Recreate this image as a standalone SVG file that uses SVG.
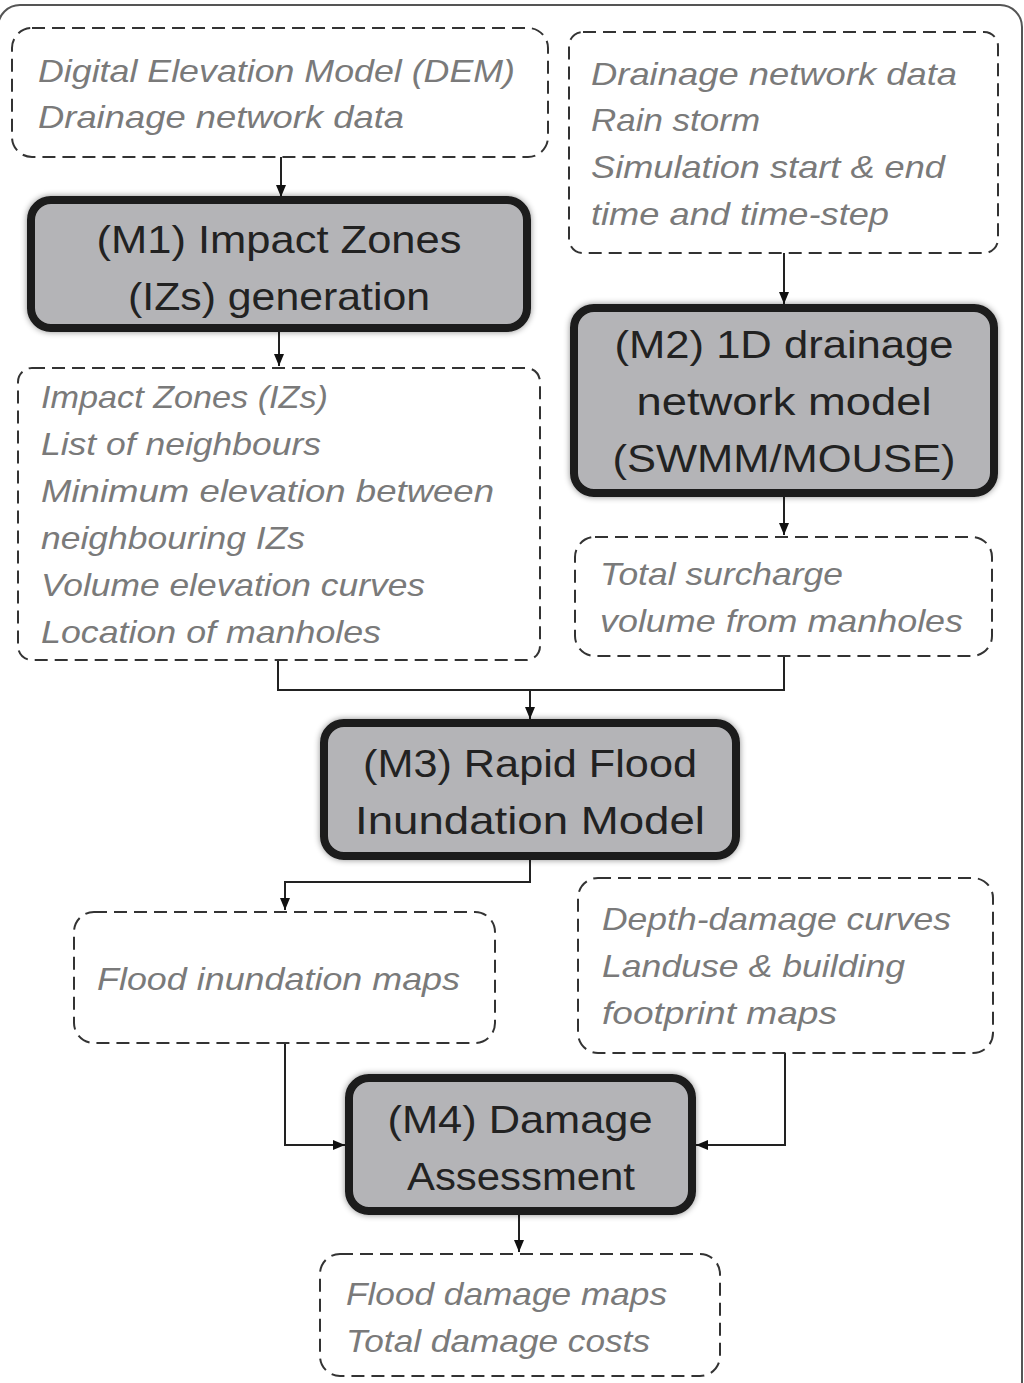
<svg xmlns="http://www.w3.org/2000/svg" width="1024" height="1383" viewBox="0 0 1024 1383">
<style>
.dash{fill:#fff;stroke:#333;stroke-width:2;stroke-dasharray:13 7}
.mod{fill:#b4b4b7;stroke:#1a1a1a;stroke-width:8;filter:url(#sh)}
.it{font-family:"Liberation Sans",Arial,sans-serif;font-style:italic;font-size:32px;fill:#7a7a7a}
.tt{font-family:"Liberation Sans",Arial,sans-serif;font-size:39px;fill:#222;text-anchor:middle}
.con{fill:none;stroke:#222;stroke-width:2}
</style>
<defs>
<filter id="sh" x="-10%" y="-10%" width="120%" height="120%"><feDropShadow dx="0" dy="0" stdDeviation="3" flood-color="#000" flood-opacity="0.45"/></filter>
<marker id="ah" markerWidth="12" markerHeight="12" refX="12" refY="6" orient="auto" markerUnits="userSpaceOnUse"><path d="M0,1 L12,6 L0,11 Z" fill="#111"/></marker>
</defs>
<rect x="0" y="0" width="1024" height="1383" fill="#fff"/>
<rect x="-2" y="5" width="1024" height="1420" rx="22" fill="none" stroke="#555" stroke-width="2"/>

<g id="connectors">
<path class="con" d="M281,157 V197" marker-end="url(#ah)"/>
<path class="con" d="M784,253 V304" marker-end="url(#ah)"/>
<path class="con" d="M279,329 V366" marker-end="url(#ah)"/>
<path class="con" d="M784,494 V535" marker-end="url(#ah)"/>
<path class="con" d="M278,660 V690 H784 V656"/>
<path class="con" d="M530,690 V719" marker-end="url(#ah)"/>
<path class="con" d="M530,857 V882 H285 V910" marker-end="url(#ah)"/>
<path class="con" d="M285,1043 V1145 H345" marker-end="url(#ah)"/>
<path class="con" d="M785,1053 V1145 H696" marker-end="url(#ah)"/>
<path class="con" d="M519,1212 V1252" marker-end="url(#ah)"/>
</g>

<g id="in1">
<rect class="dash" x="12" y="28" width="536" height="129" rx="20"/>
<text class="it" x="38" y="82" textLength="477" lengthAdjust="spacingAndGlyphs">Digital Elevation Model (DEM)</text>
<text class="it" x="38" y="128" textLength="366" lengthAdjust="spacingAndGlyphs">Drainage network data</text>
</g>

<g id="in2">
<rect class="dash" x="569" y="32" width="429" height="221" rx="14"/>
<text class="it" x="591" y="85" textLength="366" lengthAdjust="spacingAndGlyphs">Drainage network data</text>
<text class="it" x="591" y="131" textLength="169" lengthAdjust="spacingAndGlyphs">Rain storm</text>
<text class="it" x="591" y="178" textLength="354" lengthAdjust="spacingAndGlyphs">Simulation start &amp; end</text>
<text class="it" x="591" y="225" textLength="298" lengthAdjust="spacingAndGlyphs">time and time-step</text>
</g>

<g id="m1">
<rect class="mod" x="31" y="200" width="496" height="128" rx="20"/>
<text class="tt" x="279" y="253" textLength="365" lengthAdjust="spacingAndGlyphs">(M1) Impact Zones</text>
<text class="tt" x="279" y="310" textLength="302" lengthAdjust="spacingAndGlyphs">(IZs) generation</text>
</g>

<g id="m2">
<rect class="mod" x="574" y="308" width="420" height="185" rx="20"/>
<text class="tt" x="784" y="358" textLength="339" lengthAdjust="spacingAndGlyphs">(M2) 1D drainage</text>
<text class="tt" x="784" y="415" textLength="295" lengthAdjust="spacingAndGlyphs">network model</text>
<text class="tt" x="784" y="472" textLength="343" lengthAdjust="spacingAndGlyphs">(SWMM/MOUSE)</text>
</g>

<g id="iz">
<rect class="dash" x="18" y="368" width="522" height="292" rx="14"/>
<text class="it" x="41" y="408" textLength="287" lengthAdjust="spacingAndGlyphs">Impact Zones (IZs)</text>
<text class="it" x="41" y="455" textLength="280" lengthAdjust="spacingAndGlyphs">List of neighbours</text>
<text class="it" x="41" y="502" textLength="453" lengthAdjust="spacingAndGlyphs">Minimum elevation between</text>
<text class="it" x="41" y="549" textLength="264" lengthAdjust="spacingAndGlyphs">neighbouring IZs</text>
<text class="it" x="41" y="596" textLength="384" lengthAdjust="spacingAndGlyphs">Volume elevation curves</text>
<text class="it" x="41" y="643" textLength="340" lengthAdjust="spacingAndGlyphs">Location of manholes</text>
</g>

<g id="sur">
<rect class="dash" x="575" y="537" width="417" height="119" rx="20"/>
<text class="it" x="600" y="585" textLength="243" lengthAdjust="spacingAndGlyphs">Total surcharge</text>
<text class="it" x="600" y="632" textLength="363" lengthAdjust="spacingAndGlyphs">volume from manholes</text>
</g>

<g id="m3">
<rect class="mod" x="324" y="723" width="412" height="133" rx="20"/>
<text class="tt" x="530" y="777" textLength="334" lengthAdjust="spacingAndGlyphs">(M3) Rapid Flood</text>
<text class="tt" x="530" y="834" textLength="350" lengthAdjust="spacingAndGlyphs">Inundation Model</text>
</g>

<g id="fim">
<rect class="dash" x="74" y="912" width="421" height="131" rx="20"/>
<text class="it" x="97" y="990" textLength="363" lengthAdjust="spacingAndGlyphs">Flood inundation maps</text>
</g>

<g id="ddc">
<rect class="dash" x="578" y="878" width="415" height="175" rx="20"/>
<text class="it" x="602" y="930" textLength="349" lengthAdjust="spacingAndGlyphs">Depth-damage curves</text>
<text class="it" x="602" y="977" textLength="303" lengthAdjust="spacingAndGlyphs">Landuse &amp; building</text>
<text class="it" x="602" y="1024" textLength="235" lengthAdjust="spacingAndGlyphs">footprint maps</text>
</g>

<g id="m4">
<rect class="mod" x="349" y="1078" width="343" height="133" rx="20"/>
<text class="tt" x="520" y="1133" textLength="265" lengthAdjust="spacingAndGlyphs">(M4) Damage</text>
<text class="tt" x="521" y="1190" textLength="228" lengthAdjust="spacingAndGlyphs">Assessment</text>
</g>

<g id="out">
<rect class="dash" x="320" y="1254" width="400" height="122" rx="20"/>
<text class="it" x="346" y="1305" textLength="321" lengthAdjust="spacingAndGlyphs">Flood damage maps</text>
<text class="it" x="346" y="1352" textLength="304" lengthAdjust="spacingAndGlyphs">Total damage costs</text>
</g>
</svg>
